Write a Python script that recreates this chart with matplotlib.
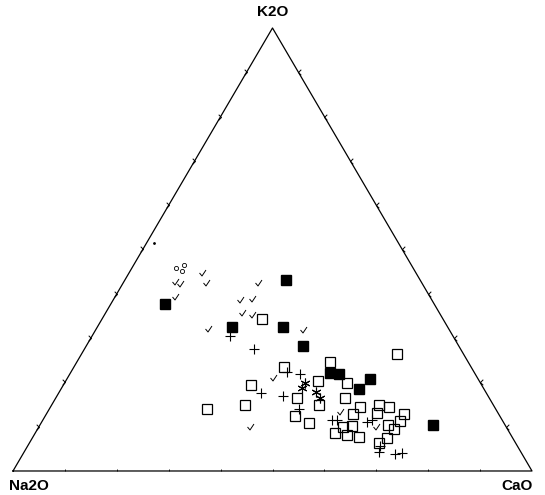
import matplotlib
matplotlib.use("Agg")
import matplotlib.pyplot as plt
from matplotlib.path import Path
import numpy as np

# ternary compositions in percent: K2O (top), CaO (right), Na2O (left)
filled_k = [43.1, 37.7, 32.5, 32.5, 28.2, 22.1, 21.9, 20.8, 18.5, 10.4]
filled_ca = [31.0, 10.4, 26.0, 35.8, 41.8, 50.0, 51.9, 58.4, 57.4, 75.7]

open_k = [34.3, 23.5, 24.6, 19.4, 14.9, 14.0, 20.3, 16.5, 14.9, 12.4, 10.8, 16.5,
          19.9, 26.4, 14.4, 12.9, 14.9, 14.4, 12.9, 13.1, 11.3, 10.4, 9.5, 10.2,
          9.9, 8.6, 8.1, 7.7, 7.4, 6.3]
open_ca = [30.8, 40.5, 48.8, 36.2, 37.3, 30.4, 48.6, 46.5, 51.5, 48.1, 51.6, 55.7,
           54.4, 60.8, 59.7, 59.1, 63.1, 65.2, 68.9, 63.6, 68.9, 67.1, 68.7, 60.2,
           58.6, 57.7, 60.3, 62.8, 68.4, 67.4]

plus_k = [27.5, 30.5, 17.6, 16.9, 14.0, 21.9, 11.5, 11.5, 11.1, 11.5, 5.6, 4.3,
          3.8, 4.1, 22.3]
plus_ca = [32.7, 26.6, 39.0, 43.6, 48.1, 44.3, 56.7, 55.7, 62.7, 63.4, 67.9, 68.4,
           71.7, 72.9, 41.6]

star_k = [18.7, 19.9, 17.8, 16.5]
star_ca = [46.3, 46.3, 49.5, 50.9]

check_k = [42.7, 42.2, 44.7, 42.4, 42.4, 39.3, 38.6, 38.8, 35.7, 35.2, 32.1, 21.0,
           9.9, 13.3, 31.8, 9.9]
check_ca = [9.9, 11.1, 14.1, 16.0, 26.0, 11.6, 24.4, 26.6, 26.3, 28.4, 21.5, 39.6,
            40.7, 56.3, 40.0, 65.0]

circle_k = [45.8, 45.1, 46.6]
circle_ca = [8.5, 10.0, 9.6]

dot_k = [51.5]
dot_ca = [1.4]

tick_steps = [10, 20, 30, 40, 50, 60, 70, 80, 90]


def to_xy(k, ca):
    k = np.asarray(k) / 100.0
    ca = np.asarray(ca) / 100.0
    return ca + k / 2.0, k


fig = plt.figure(figsize=(5.45, 4.95), dpi=100)
ax = fig.add_axes([0, 0, 1, 1])
ax.set_xlim(-0.02505, 1.02505)
ax.set_ylim(-0.0542, 1.0632)
ax.axis("off")

# triangle frame
ax.plot([0, 1, 0.5, 0], [0, 0, 1, 0], color="black", lw=0.9, zorder=1)

# chevron ticks on the edges
right_chev = Path([(-1, 1), (0, 0), (-1, -1)], [Path.MOVETO, Path.LINETO, Path.LINETO])
left_chev = Path([(1, 1), (0, 0), (1, -1)], [Path.MOVETO, Path.LINETO, Path.LINETO])
up_tick = Path([(0, 0), (0, 1)], [Path.MOVETO, Path.LINETO])
t = np.array(tick_steps) / 100.0
ax.plot(t / 2, t, ls="none", marker=right_chev, ms=4, mfc="none", mec="black", mew=0.7)
ax.plot(1 - t / 2, t, ls="none", marker=left_chev, ms=4, mfc="none", mec="black", mew=0.7)
ax.plot(t, np.zeros_like(t), ls="none", marker=up_tick, ms=3, mec="black", mew=0.6)

check = Path([(-0.6, 0.1), (-0.1, -0.5), (0.7, 0.7)], [Path.MOVETO, Path.LINETO, Path.LINETO])

x, y = to_xy(open_k, open_ca)
ax.plot(x, y, ls="none", marker="s", ms=7, mfc="none", mec="black", mew=0.9, zorder=3)
x, y = to_xy(filled_k, filled_ca)
ax.plot(x, y, ls="none", marker="s", ms=7, mfc="black", mec="black", zorder=4)
x, y = to_xy(plus_k, plus_ca)
ax.plot(x, y, ls="none", marker="+", ms=7, mec="black", mew=0.8, zorder=3)
x, y = to_xy(star_k, star_ca)
ax.plot(x, y, ls="none", marker=(6, 2, 0), ms=7, mec="black", mew=0.8, zorder=3)
x, y = to_xy(check_k, check_ca)
ax.plot(x, y, ls="none", marker=check, ms=5, mfc="none", mec="black", mew=0.7, zorder=3)
x, y = to_xy(circle_k, circle_ca)
ax.plot(x, y, ls="none", marker="o", ms=3, mfc="none", mec="black", mew=0.6, zorder=3)
x, y = to_xy(dot_k, dot_ca)
ax.plot(x, y, ls="none", marker=".", ms=2, color="black", zorder=3)

lab = dict(family="Liberation Sans", fontsize=11, fontweight="bold", ha="center", va="center")
ax.text(0.5, 1.035, "K2O", **lab)
ax.text(0.031, -0.034, "Na2O", **lab)
ax.text(0.971, -0.034, "CaO", **lab)

fig.savefig("out.png", dpi=100)
